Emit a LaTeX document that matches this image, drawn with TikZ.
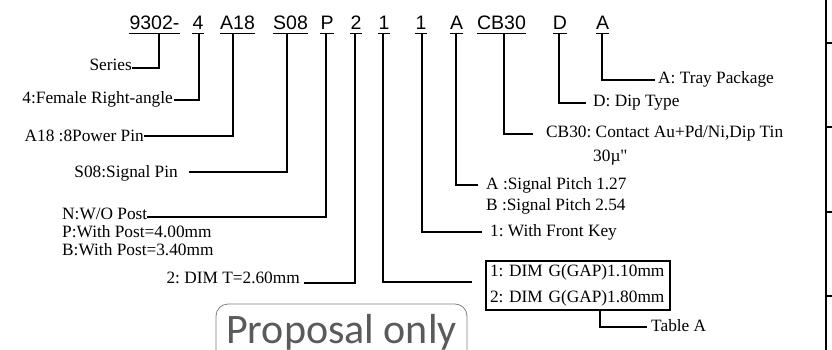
\documentclass[tikz,border=0pt]{standalone}
\usepackage{fontspec}
\setmainfont{Liberation Serif}[Ligatures=TeXOff]
\newfontfamily\codefont{Liberation Sans}
\newfontfamily\propfont{Carlito}
\definecolor{propgray}{HTML}{5A5A5A}
\definecolor{propline}{HTML}{808080}
\frenchspacing
\begin{document}
\begin{tikzpicture}[x=1pt,y=-1pt,
  code/.style={font=\codefont\fontsize{19.5}{20}\selectfont, inner xsep=0pt, inner ysep=0pt, text depth=3.5pt, anchor=base},
  uline/.style={line width=1.3pt},
  conn/.style={line width=1.8pt},
  lbl/.style={font=\fontsize{17.3}{18}\selectfont, inner sep=0pt},
  lbll/.style={lbl, anchor=base east},
  lblr/.style={lbl, anchor=base west},
  tablebox/.style={draw, line width=1.6pt, minimum width=184pt, minimum height=49pt, inner xsep=4pt, text width=176pt, align=left, font=\fontsize{17.3}{25.4}\selectfont},
  propbox/.style={draw=propline, line width=0.8pt, rounded corners=12pt, text=propgray, font=\propfont\fontsize{42}{42}\selectfont, text height=33pt, text depth=30pt, inner ysep=6pt, minimum width=251pt, anchor=base},
  border/.style={line width=2pt},
  tick/.style={line width=1.3pt}
]
\useasboundingbox (0,0) rectangle (832,350);
\clip (0,0) rectangle (832,350);

% code row
\node[code] (c1) at (154.5,30) {9302-};
\node[code] (c2) at (198,30) {4};
\node[code] (c3) at (237.5,30) {A18};
\node[code] (c4) at (290.5,30) {S08};
\node[code] (c5) at (327,30) {P};
\node[code] (c6) at (356,30) {2};
\node[code] (c7) at (384,30) {1};
\node[code] (c8) at (421,30) {1};
\node[code] (c9) at (456.5,30) {A};
\node[code] (c10) at (501.5,30) {CB30};
\node[code] (c11) at (560,30) {D};
\node[code] (c12) at (602.5,30) {A};
\foreach \i in {1,...,12} \draw[uline] (c\i.south west) -- (c\i.south east);

% left labels
\node[lbll] (series) at (132,71) {Series};
\node[lbll] (female) at (173,104) {4:Female Right-angle};
\node[lbll] (power) at (144,141) {A18 :8Power Pin};
\node[lbll] (signal) at (178,177) {S08:Signal Pin};
\node[lblr] (nwo) at (62,219.5) {N:W/O Post};
\node[lblr] (pwp) at (62,237) {P:With Post=4.00mm};
\node[lblr] (bwp) at (62,255) {B:With Post=3.40mm};
\node[lbll] (dimt) at (300,283) {2: DIM T=2.60mm};

% right labels
\node[lblr] (tray) at (658,84) {A: Tray Package};
\node[lblr] (dip) at (593,107) {D: Dip Type};
\node[lblr] (cb) at (546,138) {CB30: Contact Au+Pd/Ni,Dip Tin};
\node[lblr] (cb2) at (593,161.5) {30µ"};
\node[lblr] (pitcha) at (486,189) {A :Signal Pitch 1.27};
\node[lblr] (pitchb) at (486,210) {B :Signal Pitch 2.54};
\node[lblr] (key) at (490,236) {1: With Front Key};
\node[tablebox] (tbl) at (578,285.5) {1: DIM G(GAP)1.10mm\\2: DIM G(GAP)1.80mm};
\node[lblr] (taba) at (651,331) {Table A};

% connectors
\draw[conn] ([xshift=4.5pt]c1.south) |- ([yshift=3pt]series.base east);
\draw[conn] ([xshift=1pt]c2.south) |- ([xshift=1pt,yshift=4pt]female.base east);
\draw[conn] ([xshift=-4.5pt]c3.south) |- ([yshift=5pt]power.base east);
\draw[conn] ([xshift=-3.5pt]c4.south) |- ([xshift=11pt,yshift=5pt]signal.base east);
\draw[conn] ([xshift=-1pt]c5.south) |- ([yshift=2.5pt]nwo.base east);
\draw[conn] ([xshift=-1pt]c6.south) |- ([xshift=4pt]dimt.base east);
\draw[conn] ([xshift=-1pt]c7.south) |- ([xshift=-13pt,yshift=3.5pt]tbl.west);
\draw[conn] ([xshift=1pt]c8.south) |- ([xshift=-8pt,yshift=4pt]key.base west);
\draw[conn] ([xshift=-0.5pt]c9.south) |- ([xshift=-8pt,yshift=4pt]pitcha.base west);
\draw[conn] ([xshift=2.5pt]c10.south) |- ([xshift=-13pt,yshift=4pt]cb.base west);
\draw[conn] ([xshift=-1pt]c11.south) |- ([xshift=-7pt,yshift=4pt]dip.base west);
\draw[conn] ([xshift=-0.5pt]c12.south) |- ([xshift=-3pt,yshift=4pt]tray.base west);
\draw[conn] ([xshift=22pt]tbl.south) |- ([xshift=-4pt,yshift=4pt]taba.base west);

% proposal stamp
\node[propbox] (prop) at (341.5,343) {Proposal only};

% right border with ticks
\draw[border] (825.5,0) -- (825.5,350);
\foreach \y in {43,127,212,296} \draw[tick] (825.5,\y) -- (832,\y);
\end{tikzpicture}
\end{document}
